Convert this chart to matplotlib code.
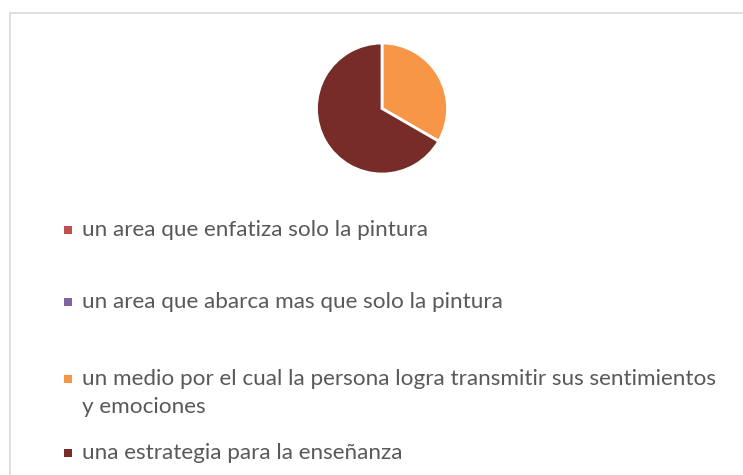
import matplotlib
matplotlib.use("Agg")
import matplotlib.pyplot as plt
from matplotlib.patches import Rectangle

categories = [
    "un area que enfatiza solo la pintura",
    "un area que abarca mas que solo la pintura",
    "un medio por el cual la persona logra transmitir sus sentimientos\ny emociones",
    "una estrategia para la enseñanza",
]
values = [0, 0, 1, 2]
colors = ["#C0504D", "#8064A2", "#F79646", "#772C2A"]

W, H = 743, 475
fig = plt.figure(figsize=(W / 100, H / 100), dpi=100)
fig.patch.set_facecolor("white")

# chart border
fig.patches.append(Rectangle((9.5 / W, -0.1), 1.2, (H - 13.5) / H + 0.1,
                             transform=fig.transFigure, fill=False,
                             edgecolor="#D9D9D9", linewidth=1.2))

cx, cy, r = 382, 108.5, 65.5
ax = fig.add_axes([(cx - r) / W, (H - cy - r) / H, 2 * r / W, 2 * r / H])
nz = [(v, c) for v, c in zip(values, colors) if v > 0]
ax.pie([v for v, _ in nz], colors=[c for _, c in nz], startangle=90,
       counterclock=False, radius=1,
       wedgeprops=dict(edgecolor="white", linewidth=2))
ax.set_xlim(-1.0, 1.0)
ax.set_ylim(-1.0, 1.0)
ax.set_aspect("equal")
ax.axis("off")

# legend
ys = [230, 302, 379, 453]
line_gap = 28
fs = 16.2
for lab, col, y in zip(categories, colors, ys):
    fig.patches.append(Rectangle((63.5 / W, (H - y - 4) / H), 8 / W, 8 / H,
                                 transform=fig.transFigure, facecolor=col,
                                 edgecolor="none"))
    for i, line in enumerate(lab.split("\n")):
        fig.text(82 / W, (H - y - i * line_gap) / H, line, fontsize=fs,
                 family="Lato", color="#595959", va="center", ha="left")

fig.savefig("out.png", dpi=100, facecolor="white")
